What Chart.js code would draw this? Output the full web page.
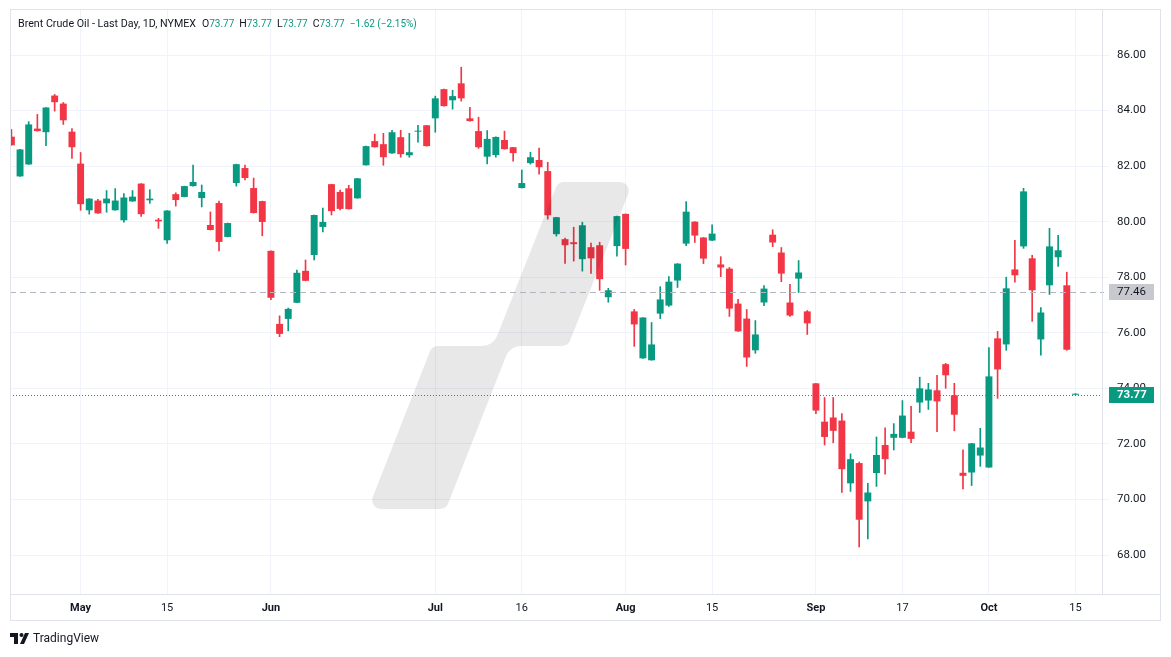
<!DOCTYPE html>
<html>
<head>
<meta charset="utf-8">
<script src="https://cdn.jsdelivr.net/npm/chart.js@4.4.1/dist/chart.umd.min.js"></script>
<style>
  html, body { margin: 0; padding: 0; background: #ffffff; }
  #wrap { width: 1171px; height: 657px; }
</style>
</head>
<body>
<div id="wrap"><canvas id="brentChart" width="1171" height="657"></canvas></div>
<script>
// Brent daily candles, 19 Apr - 15 Oct 2024 (trading days only)
const dates = [
  "2024-04-19","2024-04-22","2024-04-23","2024-04-24","2024-04-25","2024-04-26","2024-04-29","2024-04-30",
  "2024-05-01","2024-05-02","2024-05-03","2024-05-06","2024-05-07","2024-05-08","2024-05-09","2024-05-10",
  "2024-05-13","2024-05-14","2024-05-15","2024-05-16","2024-05-17","2024-05-20","2024-05-21","2024-05-22",
  "2024-05-23","2024-05-24","2024-05-28","2024-05-29","2024-05-30","2024-05-31",
  "2024-06-03","2024-06-04","2024-06-05","2024-06-06","2024-06-07","2024-06-10","2024-06-11","2024-06-12",
  "2024-06-13","2024-06-14","2024-06-17","2024-06-18","2024-06-20","2024-06-21","2024-06-24","2024-06-25",
  "2024-06-26","2024-06-27","2024-06-28",
  "2024-07-01","2024-07-02","2024-07-03","2024-07-05","2024-07-08","2024-07-09","2024-07-10","2024-07-11",
  "2024-07-12","2024-07-15","2024-07-16","2024-07-17","2024-07-18","2024-07-19","2024-07-22","2024-07-23",
  "2024-07-24","2024-07-25","2024-07-26","2024-07-29","2024-07-30","2024-07-31",
  "2024-08-01","2024-08-02","2024-08-05","2024-08-06","2024-08-07","2024-08-08","2024-08-09","2024-08-12",
  "2024-08-13","2024-08-14","2024-08-15","2024-08-16","2024-08-19","2024-08-20","2024-08-21","2024-08-22",
  "2024-08-23","2024-08-26","2024-08-27","2024-08-28","2024-08-29","2024-08-30",
  "2024-09-03","2024-09-04","2024-09-05","2024-09-06","2024-09-09","2024-09-10","2024-09-11","2024-09-12",
  "2024-09-13","2024-09-16","2024-09-17","2024-09-18","2024-09-19","2024-09-20","2024-09-23","2024-09-24",
  "2024-09-25","2024-09-26","2024-09-27","2024-09-30",
  "2024-10-01","2024-10-02","2024-10-03","2024-10-04","2024-10-07","2024-10-08","2024-10-09","2024-10-10",
  "2024-10-11","2024-10-14","2024-10-15"
];

const opens = [
  83.06, 81.63, 82.06, 83.35, 83.22, 84.54, 84.25, 83.24,
  82.09, 80.41, 80.76, 80.66, 80.41, 80.05, 80.73, 81.37, 80.77, 80.07, 79.33, 80.99, 80.89, 81.28,
  80.85, 79.88, 80.67, 79.45, 81.39, 81.93, 81.21, 80.74,
  78.95, 76.32, 76.50, 77.08, 78.23, 78.80, 79.81, 81.35, 81.07, 81.20, 80.84, 82.03, 82.90, 82.79,
  82.46, 83.04, 82.39, 83.24, 83.47,
  83.72, 84.77, 84.37, 84.98, 83.72, 83.26, 82.34, 82.40, 82.94, 82.68, 81.21, 82.11, 82.22, 81.82,
  79.55, 79.37, 79.26, 78.65, 79.08, 79.15, 77.28, 79.12,
  80.28, 76.77, 75.08, 75.01, 76.69, 76.98, 77.88, 79.21, 80.00, 79.43, 79.32, 78.46, 78.31, 77.05,
  76.51, 75.37, 77.09, 79.53, 78.89, 77.09, 77.95, 76.77,
  74.18, 72.80, 72.95, 72.84, 70.58, 71.31, 69.93, 70.95, 71.96, 72.22, 72.22, 72.44, 73.49, 73.56,
  73.93, 74.87, 73.75, 70.96, 70.97, 71.58,
  71.15, 75.80, 75.58, 78.28, 79.11, 78.68, 75.76, 77.71, 78.72, 77.71, 73.77
];
const highs = [
  83.32, 82.60, 83.60, 83.86, 84.11, 84.58, 84.29, 83.35,
  82.49, 80.83, 80.80, 81.12, 81.19, 81.01, 81.12, 81.37, 81.15, 80.12, 80.40, 81.04, 81.28, 82.04,
  81.32, 80.35, 80.74, 79.95, 82.07, 82.04, 81.57, 80.74,
  78.95, 76.61, 76.89, 78.26, 78.62, 80.24, 80.49, 81.35, 81.14, 81.31, 81.56, 82.72, 83.15, 83.18,
  83.29, 83.29, 83.18, 83.47, 83.47,
  84.52, 84.77, 84.73, 85.56, 84.12, 83.76, 83.28, 83.05, 83.26, 82.68, 81.86, 82.50, 82.65, 82.14,
  80.16, 79.41, 79.80, 79.98, 79.23, 79.26, 77.60, 80.20,
  80.28, 76.84, 76.55, 76.37, 77.66, 78.02, 78.49, 80.72, 80.00, 79.43, 79.89, 78.74, 78.35, 77.20,
  76.84, 76.44, 77.70, 79.71, 79.07, 77.74, 78.60, 76.80,
  74.18, 73.67, 73.67, 73.09, 71.64, 71.35, 70.58, 72.25, 72.58, 72.73, 73.56, 73.35, 74.40, 74.18,
  74.47, 74.90, 74.18, 71.79, 72.02, 72.56,
  75.47, 76.05, 78.00, 79.33, 81.20, 78.79, 76.91, 79.76, 79.51, 78.18, 73.77
];
const lows = [
  82.75, 81.63, 82.06, 83.26, 82.74, 83.98, 83.50, 82.28,
  80.41, 80.27, 80.30, 80.34, 80.41, 79.98, 80.73, 80.19, 80.66, 79.76, 79.22, 80.56, 80.89, 81.28,
  80.53, 79.70, 78.95, 79.45, 81.28, 81.50, 80.31, 79.49,
  77.19, 75.86, 76.07, 77.08, 77.87, 78.62, 79.63, 80.24, 80.42, 80.45, 80.84, 82.03, 82.68, 82.03,
  82.46, 82.32, 82.32, 82.86, 82.72,
  83.22, 84.16, 84.05, 84.34, 83.62, 82.64, 82.08, 82.32, 82.61, 82.18, 81.21, 82.07, 81.71, 80.09,
  79.48, 78.50, 78.58, 78.22, 78.14, 77.53, 77.10, 78.76,
  78.44, 75.51, 75.08, 75.01, 76.51, 76.95, 77.63, 79.14, 79.25, 78.49, 79.32, 78.02, 76.59, 76.05,
  74.79, 75.26, 76.98, 79.10, 77.84, 76.59, 77.45, 75.94,
  73.09, 71.96, 72.04, 70.25, 70.29, 68.29, 68.58, 70.47, 70.91, 71.78, 72.22, 72.04, 73.13, 73.24,
  72.44, 74.00, 72.47, 70.38, 70.50, 71.19,
  71.15, 73.64, 75.37, 77.82, 79.04, 76.41, 75.19, 77.38, 78.39, 75.37, 73.77
];
const closes = [
  82.75, 82.60, 83.50, 83.26, 84.11, 84.30, 83.65, 82.68,
  80.63, 80.83, 80.30, 80.83, 80.76, 80.87, 80.90, 80.27, 80.83, 80.01, 80.40, 80.78, 81.28, 81.43,
  81.07, 79.70, 79.27, 79.95, 82.07, 81.57, 80.31, 79.99,
  77.26, 75.96, 76.86, 78.16, 77.87, 80.24, 79.99, 80.38, 80.46, 80.45, 81.56, 82.72, 82.68, 82.32,
  83.22, 82.43, 82.50, 83.27, 82.72,
  84.44, 84.16, 84.52, 84.44, 83.62, 82.68, 82.98, 83.05, 82.61, 82.47, 81.39, 82.32, 81.96, 80.23,
  80.16, 79.15, 79.19, 79.87, 78.68, 77.93, 77.53, 80.20,
  79.02, 76.30, 76.55, 75.58, 77.20, 77.84, 78.49, 80.36, 79.50, 78.67, 79.57, 78.35, 76.87, 76.05,
  75.11, 75.94, 77.59, 79.25, 78.13, 76.62, 78.17, 76.34,
  73.20, 72.25, 72.47, 71.09, 71.45, 69.27, 70.25, 71.60, 71.45, 72.36, 73.02, 72.18, 74.00, 73.96,
  73.53, 74.47, 73.05, 70.85, 72.02, 71.87,
  74.43, 74.68, 77.60, 78.07, 81.09, 77.53, 76.73, 79.11, 78.97, 75.39, 73.77
];

// axis labels
const tickDates = ["2024-05-01","2024-05-15","2024-06-03","2024-07-01","2024-07-16","2024-08-01",
  "2024-08-15","2024-09-03","2024-09-17","2024-10-01","2024-10-15"];
const tickText = ["May","15","Jun","Jul","16","Aug","15","Sep","17","Oct","15"];
const priceTicks = [68, 70, 72, 74, 76, 78, 80, 82, 84, 86];
const refPrice = 77.46;

const UP = "#089981";
const DOWN = "#f23645";
const GRID = "#f0f3fa";
const FRAME = "#e0e3eb";
const TEXT = "#131722";
const FONT = "Roboto, 'Liberation Sans', sans-serif";

const last = closes.length - 1;
const lastPrice = closes[last];
const candleColors = closes.map((c, i) => (c >= opens[i] ? UP : DOWN));
const tickIdx = tickDates.map((d) => dates.indexOf(d));

// TradingView watermark outline (screen pixels)
const markPoints = [
  [558, 182], [633, 182], [568, 346], [510, 346],
  [446, 509], [368, 509], [432, 346], [493, 346],
];
const markRadius = [9, 9, 9, 16, 9, 9, 9, 16];

function roundedPath(ctx, pts, radii) {
  const n = pts.length;
  const mid = (a, b) => [(a[0] + b[0]) / 2, (a[1] + b[1]) / 2];
  const start = mid(pts[n - 1], pts[0]);
  ctx.moveTo(start[0], start[1]);
  for (let i = 0; i < n; i++) {
    const p = pts[i];
    const nx = pts[(i + 1) % n];
    ctx.arcTo(p[0], p[1], nx[0], nx[1], radii[i]);
  }
  ctx.closePath();
}

const overlayPlugin = {
  id: "overlay",
  afterDatasetsDraw(chart) {
    const { ctx, chartArea: a, scales } = chart;
    const y = scales.y;
    ctx.save();

    // watermark
    ctx.fillStyle = "rgba(0, 0, 0, 0.09)";
    ctx.beginPath();
    roundedPath(ctx, markPoints, markRadius);
    ctx.fill();

    // reference price line
    const yRef = Math.round(y.getPixelForValue(refPrice)) + 0.5;
    ctx.strokeStyle = "#b2b5be";
    ctx.lineWidth = 1;
    ctx.setLineDash([6, 4]);
    ctx.beginPath();
    ctx.moveTo(a.left, yRef);
    ctx.lineTo(a.right + 2, yRef);
    ctx.stroke();

    // last price line
    const yLast = Math.round(y.getPixelForValue(lastPrice)) + 0.5;
    ctx.strokeStyle = UP;
    ctx.setLineDash([1, 2]);
    ctx.beginPath();
    ctx.moveTo(a.left, yLast);
    ctx.lineTo(a.right, yLast);
    ctx.stroke();
    ctx.restore();
  },
  afterDraw(chart) {
    const { ctx, chartArea: a, scales } = chart;
    const y = scales.y;
    ctx.save();

    // frame and axis separators
    ctx.strokeStyle = FRAME;
    ctx.lineWidth = 1;
    ctx.setLineDash([]);
    ctx.strokeRect(10.5, 9.5, 1150, 611);
    ctx.beginPath();
    ctx.moveTo(10, a.bottom + 0.5);
    ctx.lineTo(1160, a.bottom + 0.5);
    ctx.moveTo(a.right + 0.5, 10);
    ctx.lineTo(a.right + 0.5, a.bottom);
    ctx.stroke();

    // price labels on the scale
    const boxX = a.right + 7;
    const boxW = 45;
    const yRef = y.getPixelForValue(refPrice);
    ctx.fillStyle = "#c7c9cf";
    ctx.fillRect(boxX, Math.round(yRef) - 8, boxW, 16);
    ctx.font = "11.5px " + FONT;
    ctx.textBaseline = "middle";
    ctx.textAlign = "left";
    ctx.fillStyle = TEXT;
    ctx.fillText(refPrice.toFixed(2), a.right + 15, Math.round(yRef) + 0.5);

    const yLast = y.getPixelForValue(lastPrice);
    ctx.fillStyle = UP;
    ctx.fillRect(boxX, Math.round(yLast) - 8, boxW, 16);
    ctx.font = "bold 11.5px " + FONT;
    ctx.fillStyle = "#ffffff";
    ctx.fillText(lastPrice.toFixed(2), a.right + 15, Math.round(yLast) + 0.5);

    // legend line at the top
    const chg = closes[last] - closes[last - 1];
    const pct = (chg / closes[last - 1]) * 100;
    const sign = (v) => (v < 0 ? "\u2212" : "+") + Math.abs(v).toFixed(2);
    const parts = [
      ["Brent Crude Oil - Last Day, 1D, NYMEX", TEXT, 6, 10.7],
      ["O", TEXT, 0, 10.5], [opens[last].toFixed(2), UP, 5, 10],
      ["H", TEXT, 0, 10.5], [highs[last].toFixed(2), UP, 5, 10],
      ["L", TEXT, 0, 10.5], [lows[last].toFixed(2), UP, 5, 10],
      ["C", TEXT, 0, 10.5], [closes[last].toFixed(2), UP, 5, 10],
      [sign(chg) + " (" + sign(pct) + "%)", UP, 0, 10],
    ];
    let x = 18;
    parts.forEach(([txt, col, gap, size]) => {
      ctx.font = size + "px " + FONT;
      ctx.fillStyle = col;
      ctx.fillText(txt, x, 24.5);
      x += ctx.measureText(txt).width + gap;
    });

    // footer logo
    ctx.fillStyle = TEXT;
    ctx.fillRect(10, 633, 8, 4);
    ctx.fillRect(14, 633, 4, 11);
    ctx.beginPath();
    ctx.arc(21.5, 635, 2, 0, Math.PI * 2);
    ctx.fill();
    ctx.beginPath();
    ctx.moveTo(25, 633);
    ctx.lineTo(29, 633);
    ctx.lineTo(24, 644);
    ctx.lineTo(20, 644);
    ctx.closePath();
    ctx.fill();
    ctx.font = "12px " + FONT;
    ctx.fillText("TradingView", 33, 639);
    ctx.restore();
  },
};

const ctx = document.getElementById("brentChart").getContext("2d");
window.brentChart = new Chart(ctx, {
  type: "bar",
  data: {
    datasets: [
      {
        label: "Body",
        data: dates.map((d, i) => ({ x: i, y: [opens[i], closes[i]] })),
        backgroundColor: candleColors,
        borderWidth: 0,
        grouped: false,
        categoryPercentage: 1,
        barPercentage: 0.8,
        minBarLength: 1,
      },
      {
        label: "Wick",
        data: dates.map((d, i) => ({ x: i, y: [lows[i], highs[i]] })),
        backgroundColor: candleColors,
        borderWidth: 0,
        grouped: false,
        barThickness: 1,
        minBarLength: 1,
      },
    ],
  },
  options: {
    responsive: false,
    animation: false,
    layout: { padding: { left: 10, top: 10, right: 11, bottom: 36 } },
    scales: {
      x: {
        type: "linear",
        offset: false,
        min: -0.162,
        max: 126.07,
        afterBuildTicks: (s) => {
          s.ticks = tickIdx.map((v) => ({ value: v }));
        },
        afterFit: (s) => {
          s.height = 27;
          s.paddingLeft = 0;
          s.paddingRight = 0;
        },
        grid: { color: GRID, drawTicks: false, offset: false },
        border: { display: false },
        ticks: {
          autoSkip: false,
          maxRotation: 0,
          padding: 8,
          color: TEXT,
          font: (c) => ({
            family: FONT,
            size: 11,
            weight: isNaN(Number(tickText[c.index])) ? "bold" : "normal",
          }),
          callback: (v, i) => tickText[i],
        },
      },
      y: {
        position: "right",
        min: 66.596,
        max: 87.62,
        afterBuildTicks: (s) => {
          s.ticks = priceTicks.map((v) => ({ value: v }));
        },
        afterFit: (s) => {
          s.width = 58;
          s.paddingTop = 0;
          s.paddingBottom = 0;
        },
        grid: { color: GRID, tickLength: 7 },
        border: { display: false },
        ticks: {
          padding: 8,
          color: TEXT,
          font: { family: FONT, size: 11.5 },
          callback: (v) => Number(v).toFixed(2),
        },
      },
    },
    plugins: {
      legend: { display: false },
      tooltip: { enabled: false },
    },
  },
  plugins: [overlayPlugin],
});
</script>
</body>
</html>
